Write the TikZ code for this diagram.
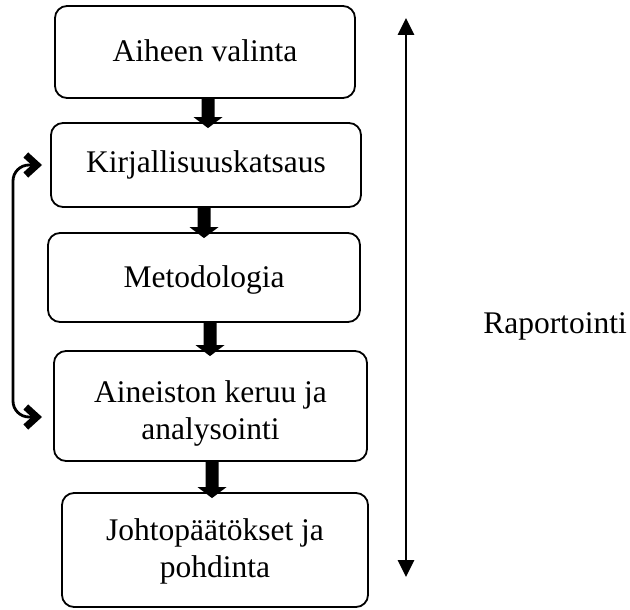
\documentclass[tikz,border=0pt]{standalone}
\usepackage{fontspec}
\setmainfont{Liberation Serif}
\usetikzlibrary{arrows.meta,calc}
\newcommand\blkarr[3]{% #1 = x of the arrow, #2 = upper node, #3 = lower node
  \fill ($(#2.south -| #1,0)+(-6.5,0)$)
     -- ($(#3.north -| #1,0)+(-6.5,-5)$)
     -- ($(#3.north -| #1,0)+(-14.5,-5)$)
     -- ($(#3.north -| #1,0)+(0,6)$)
     -- ($(#3.north -| #1,0)+(14.5,-5)$)
     -- ($(#3.north -| #1,0)+(6.5,-5)$)
     -- ($(#2.south -| #1,0)+(6.5,0)$) -- cycle;}
\begin{document}
\begin{tikzpicture}[x=1pt,y=-1pt,
  box/.style={draw, line width=1.8pt, rounded corners=12pt, inner sep=0pt},
  lbl/.style={font=\fontsize{31.5}{37}\selectfont, inner sep=0pt, anchor=base},
  chev/.tip={Straight Barb[sharp,length=11pt,width=20pt,line width=7pt]},
  loopline/.style={line width=2.8pt, rounded corners=16pt, chev-chev},
  spanline/.style={line width=2.8pt,
    {Triangle[length=17pt,width=16pt]}-{Triangle[length=17pt,width=16pt]}}]
\fill[white] (0,0) rectangle (630,610);
\useasboundingbox (0,0) rectangle (630,610);

% boxes
\node[box, minimum width=300pt, minimum height=92pt] (b1) at (205,52) {};
\node[box, minimum width=310pt, minimum height=84pt] (b2) at (206,165) {};
\node[box, minimum width=312pt, minimum height=89pt] (b3) at (204,277.5) {};
\node[box, minimum width=313pt, minimum height=110pt] (b4) at (210.5,406) {};
\node[box, minimum width=306pt, minimum height=114pt] (b5) at (215,550) {};

% texts
\node[lbl] (t1) at (205,62) {Aiheen valinta};
\node[lbl] (t2) at (206,172) {Kirjallisuuskatsaus};
\node[lbl] (t3) at (204,287) {Metodologia};
\node[lbl] (t4a) at (210.5,402) {Aineiston keruu ja};
\node[lbl] (t4b) at (210.5,439) {analysointi};
\node[lbl] (t5a) at (215,540) {Johtopäätökset ja};
\node[lbl] (t5b) at (215,577) {pohdinta};
\node[lbl] (rap) at (555,333) {Raportointi};

% block arrows
\blkarr{208}{b1}{b2}
\blkarr{204}{b2}{b3}
\blkarr{210}{b3}{b4}
\blkarr{212}{b4}{b5}

% loop arrow
\coordinate (la) at (42,165);
\coordinate (lb) at (42,417);
\draw[loopline] (la) -- (13,165) -- (13,417) -- (lb);

% reporting span arrow
\coordinate (rt) at (406,18);
\coordinate (rb) at (406,577);
\draw[spanline] (rt) -- (rb);
\end{tikzpicture}
\end{document}
